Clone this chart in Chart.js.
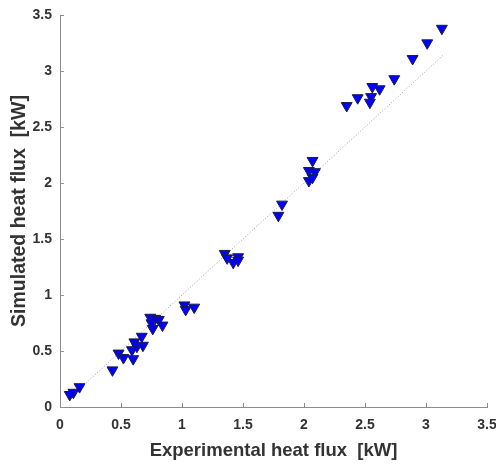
<!DOCTYPE html>
<html>
<head>
<meta charset="utf-8">
<script src="https://cdn.jsdelivr.net/npm/chart.js@4/dist/chart.umd.min.js"></script>
<style>
  html, body { margin: 0; padding: 0; background: #fff; }
  #wrap { width: 496px; height: 466px; }
</style>
</head>
<body>
<div id="wrap"><canvas id="c" width="496" height="466"></canvas></div>
<script>
const experimental = [
  3.13, 3.01, 2.89, 2.74, 2.62, 2.56, 2.55, 2.54, 2.44, 2.35,
  2.07, 2.04, 2.09, 2.04, 2.07, 1.82, 1.79,
  1.35, 1.37, 1.42, 1.46, 1.46, 1.02, 1.03, 1.10,
  0.74, 0.78, 0.81, 0.76, 0.75, 0.84, 0.67, 0.61, 0.68, 0.63,
  0.59, 0.60, 0.48, 0.52, 0.43, 0.16, 0.11, 0.08
];
const simulated = [
  3.38, 3.25, 3.11, 2.93, 2.84, 2.86, 2.77, 2.72, 2.76, 2.69,
  2.20, 2.11, 2.10, 2.02, 2.05, 1.81, 1.71,
  1.37, 1.33, 1.29, 1.34, 1.31, 0.91, 0.87, 0.89,
  0.80, 0.79, 0.78, 0.70, 0.75, 0.73, 0.63, 0.58, 0.55, 0.54,
  0.51, 0.43, 0.48, 0.44, 0.33, 0.18, 0.13, 0.11
];
const fitLine = [0.07, 3.15];
const tickValues = [0, 0.5, 1, 1.5, 2, 2.5, 3, 3.5];

const points = experimental.map((x, i) => ({ x: x, y: simulated[i] }));

// inward tick marks, like the matlab figure
const innerTicks = {
  id: 'innerTicks',
  afterDraw(chart) {
    const ctx = chart.ctx;
    const xs = chart.scales.x, ys = chart.scales.y;
    ctx.save();
    ctx.strokeStyle = '#8c8c8c';
    ctx.lineWidth = 1;
    ctx.beginPath();
    tickValues.forEach(v => {
      const px = Math.round(xs.getPixelForValue(v)) + 0.5;
      ctx.moveTo(px, ys.bottom);
      ctx.lineTo(px, ys.bottom - 4);
      const py = Math.round(ys.getPixelForValue(v)) + 0.5;
      ctx.moveTo(xs.left, py);
      ctx.lineTo(xs.left + 4, py);
    });
    ctx.stroke();
    ctx.restore();
  }
};

const tickFont = { family: 'Liberation Sans, Arial', size: 14, weight: 'bold' };

new Chart(document.getElementById('c'), {
  type: 'scatter',
  data: {
    datasets: [{
      data: points,
      pointStyle: 'triangle',
      rotation: 180,
      pointRadius: 6.3,
      backgroundColor: '#0000ff',
      borderColor: '#1c1c44',
      borderWidth: 1
    }, {
      type: 'line',
      data: fitLine.map(v => ({ x: v, y: v })),
      borderColor: '#9a9a9a',
      borderWidth: 1,
      borderDash: [1, 2],
      pointRadius: 0,
      fill: false
    }]
  },
  options: {
    responsive: false,
    animation: false,
    layout: { padding: { top: 15, right: 9, left: 0, bottom: 0 } },
    plugins: { legend: { display: false }, tooltip: { enabled: false } },
    scales: {
      x: {
        type: 'linear', min: 0, max: 3.5,
        afterBuildTicks: s => { s.ticks = tickValues.map(v => ({ value: v })); },
        afterFit: s => { s.height = 59; s.paddingLeft = 0; s.paddingRight = 0; },
        grid: { display: false, drawTicks: false },
        border: { display: true, color: '#8c8c8c', width: 1 },
        ticks: {
          color: '#333', padding: 10, font: tickFont, maxRotation: 0,
          callback: v => String(v)
        },
        title: {
          display: true, text: 'Experimental heat flux  [kW]', color: '#333',
          font: { family: 'Liberation Sans, Arial', size: 18.5, weight: 'bold' },
          padding: { top: 6 }
        }
      },
      y: {
        type: 'linear', min: 0, max: 3.5,
        afterBuildTicks: s => { s.ticks = tickValues.map(v => ({ value: v })); },
        afterFit: s => { s.width = 60; s.paddingTop = 0; s.paddingBottom = 0; },
        grid: { display: false, drawTicks: false },
        border: { display: true, color: '#8c8c8c', width: 1 },
        ticks: {
          color: '#333', padding: 8, font: tickFont,
          callback: v => String(v)
        },
        title: {
          display: true, text: 'Simulated heat flux  [kW]', color: '#333',
          font: { family: 'Liberation Sans, Arial', size: 19.5, weight: 'bold' },
          padding: { top: 8, bottom: 4 }
        }
      }
    }
  },
  plugins: [innerTicks]
});
</script>
</body>
</html>
